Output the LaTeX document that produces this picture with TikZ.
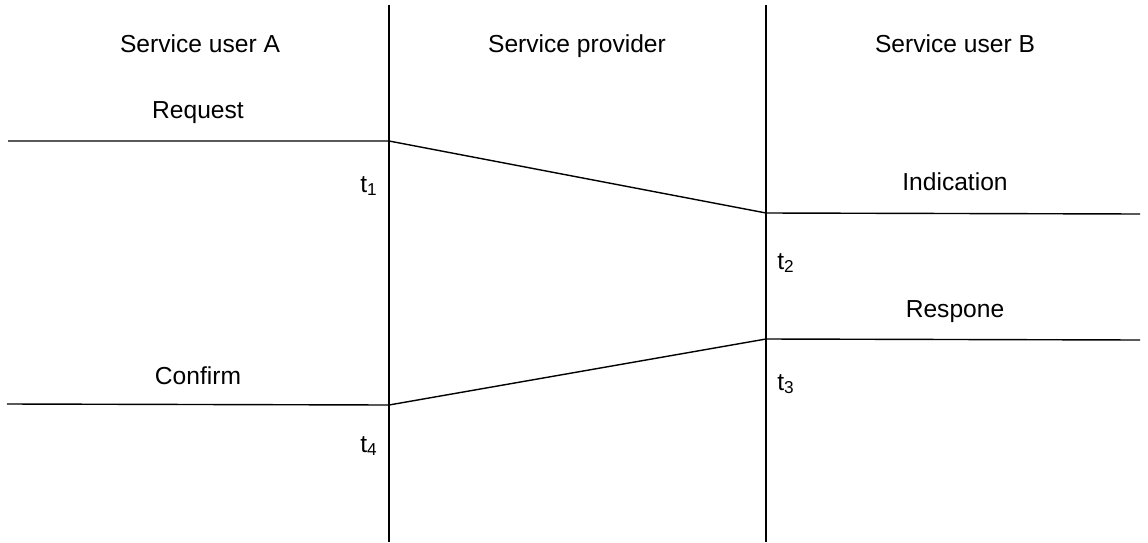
\documentclass[tikz,border=0pt]{standalone}
\usepackage{fontspec}
\setmainfont{Liberation Sans}
\usepackage{tikz}

\begin{document}
\begin{tikzpicture}[x=0.02cm,y=0.02cm,
    lbl/.style={font=\fontsize{14pt}{16pt}\selectfont, inner sep=1pt, anchor=base},
    tlbl/.style={font=\fontsize{14pt}{16pt}\selectfont, inner sep=1pt, anchor=base},
    msg/.style={line width=0.8pt}]
  % --- page frame (1148 x 542) ---
  \useasboundingbox (0,0) rectangle (1148,542);

  % --- vertical boundaries ---
  \coordinate (aTop) at (389,537);
  \coordinate (aBot) at (389,0);
  \coordinate (bTop) at (766,537);
  \coordinate (bBot) at (766,0);
  \draw[line width=1pt] (aTop) -- (aBot);
  \draw[line width=1pt] (bTop) -- (bBot);

  % --- column headings ---
  \foreach \x/\lab/\nm in {200/Service user A/userA,577/Service provider/prov,955/Service user B/userB} {
    \node[lbl] (\nm) at (\x,490) {\lab};
  }

  % --- request / indication ---
  \coordinate (reqL) at (8,401);
  \coordinate (reqR) at (389,401);
  \coordinate (indL) at (766,329);
  \coordinate (indR) at (1140,328);
  \draw[msg] (reqL) -- (reqR) -- (indL) -- (indR);

  % --- response / confirm ---
  \coordinate (resR) at (1140,202);
  \coordinate (resL) at (766,203);
  \coordinate (conR) at (389,137);
  \coordinate (conL) at (7,138);
  \draw[msg] (resR) -- (resL) -- (conR) -- (conL);

  % --- primitive names ---
  \node[lbl] (request) at (198,424) {Request};
  \node[lbl] (indication) at (955,352) {Indication};
  \node[lbl] (respone) at (955,225) {Respone};
  \node[lbl] (confirm) at (198,158) {Confirm};

  % --- time marks ---
  \node[tlbl] (t1) at (369,350) {t\textsubscript{1}};
  \node[tlbl] (t2) at (786,273) {t\textsubscript{2}};
  \node[tlbl] (t3) at (786,152) {t\textsubscript{3}};
  \node[tlbl] (t4) at (369,90) {t\textsubscript{4}};
\end{tikzpicture}
\end{document}
